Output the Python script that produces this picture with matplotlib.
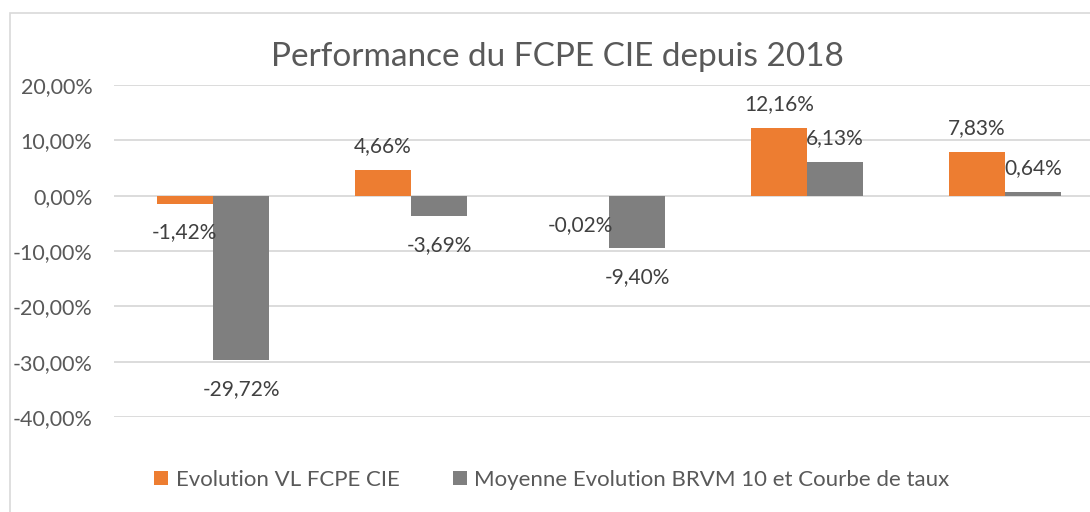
import matplotlib
matplotlib.use("Agg")
import matplotlib.pyplot as plt
from matplotlib.patches import Patch, Rectangle
from matplotlib.ticker import FuncFormatter
import numpy as np

title = "Performance du FCPE CIE depuis 2018"
series_names = ["Evolution VL FCPE CIE", "Moyenne Evolution BRVM 10 et Courbe de taux"]
fcpe = [-1.42, 4.66, -0.02, 12.16, 7.83]
brvm = [-29.72, -3.69, -9.40, 6.13, 0.64]
yticks = [-40, -30, -20, -10, 0, 10, 20]

ORANGE = "#ED7D31"
GREY = "#7F7F7F"
TXT = "#595959"
LBL = "#404040"
FONT = "Lato"

W, H = 1090, 512
fig = plt.figure(figsize=(W / 100, H / 100), dpi=100)

# outer chart border
fig.patches.append(Rectangle((9.5 / W, -0.1), 2, 1 - 12.5 / H + 0.1, transform=fig.transFigure,
                             fill=False, edgecolor="#d9d9d9", linewidth=1.2))

left, right = 114 / W, 1104 / W
bottom, top = 1 - 417 / H, 1 - 85 / H
ax = fig.add_axes([left, bottom, right - left, top - bottom])
ax.set_xlim(-0.5, len(fcpe) - 0.5)
ax.set_ylim(-40, 20)
for s in ax.spines.values():
    s.set_visible(False)
ax.set_yticks(yticks)
ax.yaxis.set_major_formatter(FuncFormatter(lambda v, p: f"{v:.2f}%".replace(".", ",")))
ax.tick_params(axis="y", length=0, pad=15.5, labelsize=15.5, labelcolor=TXT)
for t in ax.get_yticklabels():
    t.set_fontfamily(FONT)
ax.set_xticks([])
ax.grid(axis="y", color="#d9d9d9", linewidth=1.3)
ax.set_axisbelow(True)

x = np.arange(len(fcpe))
bw = 0.285
b1 = ax.bar(x - bw / 2, fcpe, bw, color=ORANGE, zorder=2)
b2 = ax.bar(x + bw / 2, brvm, bw, color=GREY, zorder=2)

def fmt(v):
    return f"{v:.2f}%".replace(".", ",")

px = 0.72
for bars, vals in ((b1, fcpe), (b2, brvm)):
    for b, v in zip(bars, vals):
        cx = b.get_x() + b.get_width() / 2
        off = 24 * px if v >= 0 else -29 * px
        ax.annotate(fmt(v), (cx, v), xytext=(0, off), textcoords="offset points",
                    ha="center", va="center", fontsize=15, color=LBL,
                    fontfamily=FONT, zorder=5, annotation_clip=False)

fig.text(557 / W, 1 - 57 / H, title, ha="center", va="center", fontsize=24,
         color=TXT, fontfamily=FONT)

handles = [Patch(facecolor=ORANGE), Patch(facecolor=GREY)]
leg = fig.legend(handles, series_names, loc="center", bbox_to_anchor=(552 / W, 1 - 480 / H),
                 ncol=2, frameon=False, handlelength=0.62, handleheight=0.62,
                 handletextpad=0.35, columnspacing=2.4,
                 prop={"family": FONT, "size": 16})
for t in leg.get_texts():
    t.set_color(TXT)

fig.savefig("out.png", dpi=100)
